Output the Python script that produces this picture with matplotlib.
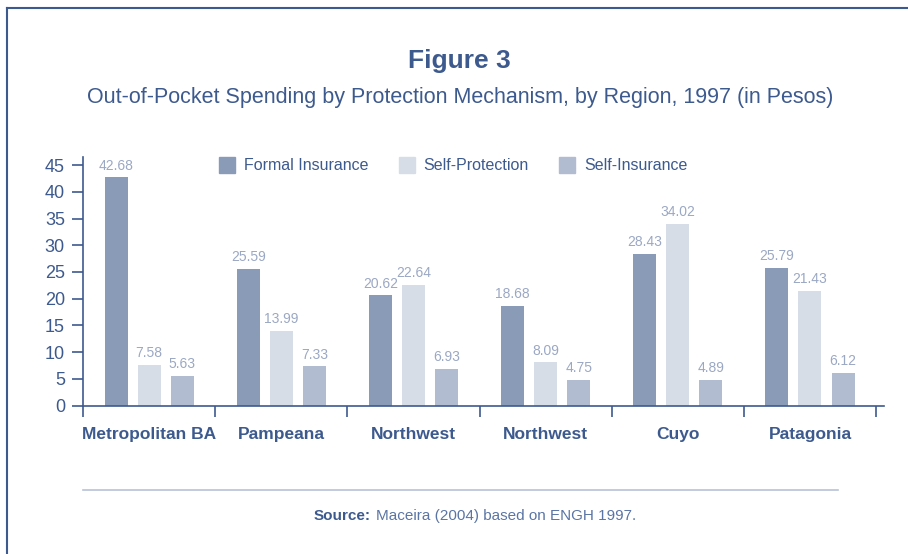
import matplotlib.pyplot as plt
import numpy as np
from matplotlib.lines import Line2D

# data
regions = ['Metropolitan BA', 'Pampeana', 'Northwest', 'Northwest', 'Cuyo', 'Patagonia']
formal = [42.68, 25.59, 20.62, 18.68, 28.43, 25.79]
self_prot = [7.58, 13.99, 22.64, 8.09, 34.02, 21.43]
self_ins = [5.63, 7.33, 6.93, 4.75, 4.89, 6.12]
series_names = ['Formal Insurance', 'Self-Protection', 'Self-Insurance']

plt.rcParams['font.family'] = ['Liberation Sans', 'DejaVu Sans']

dark = '#3d5a8e'
light_txt = '#9ba8c4'
colors = ['#8a9bb8', '#d6dde7', '#b1bcd0']

W, H = 908, 554
fig = plt.figure(figsize=(W / 100, H / 100), dpi=100)
ax = fig.add_axes([83 / W, 148.3 / H, 801 / W, 248.7 / H])

x = np.arange(len(regions))
w = 0.174
offs = [-0.25, 0, 0.25]
for vals, off, c in zip([formal, self_prot, self_ins], offs, colors):
    ax.bar(x + off, vals, width=w, color=c, zorder=2)
    for xi, v in zip(x + off, vals):
        ax.text(xi, v + 0.9, f'{v:.2f}', ha='center', va='bottom',
                fontsize=10, color=light_txt, clip_on=False)

ax.set_xlim(-0.5, 5.56)
ax.set_ylim(0, 46.5)
ax.set_yticks(range(0, 50, 5))
ax.set_xticks(np.arange(-0.5, 6, 1))
ax.set_xticklabels([])
ax.set_xticks(x, minor=True)
ax.set_xticklabels(regions, minor=True, fontsize=12.5, fontweight='bold', color=dark)
ax.tick_params(axis='x', which='major', direction='out', length=8, color=dark, width=1.2)
ax.tick_params(axis='x', which='minor', length=0, pad=15)
ax.tick_params(axis='y', direction='out', length=8, color=dark, width=1.2,
               labelsize=13, labelcolor=dark, pad=5)
for s in ['top', 'right']:
    ax.spines[s].set_visible(False)
for s in ['left', 'bottom']:
    ax.spines[s].set_color(dark)
    ax.spines[s].set_linewidth(1.2)

# legend
handles = [plt.Rectangle((0, 0), 1, 1, color=c) for c in colors]
leg = ax.legend(handles, series_names, loc='upper left', bbox_to_anchor=(0.156, 1.046),
                ncol=3, frameon=False, fontsize=11.5, handlelength=1.0, handleheight=1.2,
                columnspacing=1.9, handletextpad=0.55, borderpad=0.2)
for t in leg.get_texts():
    t.set_color(dark)

# titles
fig.text(459 / W, 1 - 61 / H, 'Figure 3', ha='center', va='center',
         fontsize=19, fontweight='bold', color=dark)
fig.text(460 / W, 1 - 97 / H,
         'Out-of-Pocket Spending by Protection Mechanism, by Region, 1997 (in Pesos)',
         ha='center', va='center', fontsize=15.5, color=dark)

# source line and text
fig.add_artist(Line2D([83 / W, 838 / W], [1 - 490 / H, 1 - 490 / H], color='#b8c2d6', lw=1.2))
src_y = 1 - 516 / H
fig.text(371 / W, src_y, 'Source:', ha='right', va='center', fontsize=11,
         fontweight='bold', color=dark)
fig.text(376 / W, src_y, 'Maceira (2004) based on ENGH 1997.', ha='left', va='center',
         fontsize=11, color='#5a75a5')

# frame on the left and top
fig.add_artist(Line2D([7 / W, 7 / W], [0, 1 - 8 / H], color=dark, lw=1.5))
fig.add_artist(Line2D([7 / W, 1], [1 - 8 / H, 1 - 8 / H], color=dark, lw=1.5))

fig.savefig('out.png', dpi=100)
